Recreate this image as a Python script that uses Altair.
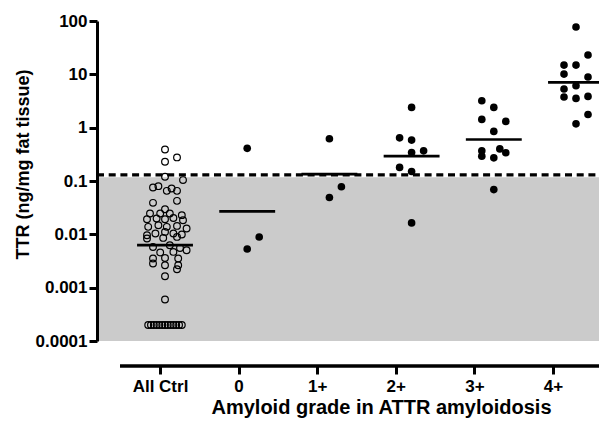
import json
import altair as alt
import pandas as pd

# ---------------- data ----------------
categories = ["All Ctrl", "0", "1+", "2+", "3+", "4+"]

ctrl_values = [0.39, 0.277, 0.229, 0.12, 0.104, 0.0757, 0.080, 0.0653, 0.0724, 0.0653,
               0.0389, 0.0424, 0.0296, 0.0246, 0.0246, 0.0246, 0.0229,
               0.0192, 0.0198, 0.0192, 0.0203, 0.0184,
               0.0138, 0.0148, 0.0138, 0.0144, 0.0129,
               0.0096, 0.01035, 0.0111, 0.01035, 0.0099,
               0.00836, 0.00858, 0.00895,
               0.0058, 0.00625, 0.00556,
               0.00456, 0.00468, 0.00504,
               0.00352, 0.00361, 0.00352,
               0.00283, 0.00263, 0.00263,
               0.00221, 0.00164, 0.0006] + [0.0002] * 13
ctrl_slots = [0, 1, 0, 0, 1.5, -1, -0.55, 0.15, 0.55, 1.0,
              -1, 1, 0, -1.25, -0.4, 0.4, 1.4,
              -1.5, -0.7, 0, 0.7, 1.5,
              -1.4, -0.55, 0.15, 1.0, 1.8,
              -1.5, -0.8, 0, 0.7, 1.4,
              -1.5, -0.15, 1.0,
              -1, 0.4, 1.25,
              -0.4, 0.7, 1.8,
              -1, 0, 1.1,
              -1, 0, 1.1,
              1.0, 0, 0] + [-1.4, -1.17, -0.93, -0.7, -0.47, -0.23, 0, 0.23, 0.47, 0.7, 0.93, 1.17, 1.4]

g0_values = [0.41, 0.0089, 0.0053]
g0_slots = [0, 1, 0]
g1_values = [0.62, 0.078, 0.049]
g1_slots = [0, 1, 0]
g2_values = [2.4, 0.645, 0.585, 0.343, 0.368, 0.18, 0.151, 0.0164]
g2_slots = [0, -1, 0, 0, 1, -1, 0, 0]
g3_values = [3.19, 2.4, 1.43, 1.31, 0.85, 0.368, 0.40, 0.338, 0.292, 0.272, 0.069]
g3_slots = [-1, 0, -1, 1, 0, -1, 0.5, 1, -1, 0, 0]
g4_values = [77, 23, 14.9, 14.9, 10.1, 8.9, 6.1, 5.3, 3.75, 3.54, 3.86, 1.77, 1.18]
g4_slots = [0, 1, -1, 0, -1, 1, 0, -1, -1, 0, 1, 1, 0]

group_means = [0.00625, 0.027, 0.134, 0.292, 0.60, 7.06]
ref_band = [0.0001, 0.118]   # grey reference range
cutoff = 0.13                 # dashed cut-off line
y_ticks = [0.0001, 0.001, 0.01, 0.1, 1, 10, 100]

# ---------------- tables ----------------
SLOT = 0.146       # one jitter slot in category units
HALF = 0.34        # half length of the mean bar in category units

ctrl_df = pd.DataFrame({"val": ctrl_values,
                        "x": [0 + s * SLOT for s in ctrl_slots]})
rows = []
for gi, (vals, slots) in enumerate([(g0_values, g0_slots), (g1_values, g1_slots),
                                    (g2_values, g2_slots), (g3_values, g3_slots),
                                    (g4_values, g4_slots)], start=1):
    for v, s in zip(vals, slots):
        rows.append({"val": v, "x": gi + s * SLOT})
pts_df = pd.DataFrame(rows)
mean_df = pd.DataFrame({"mean": group_means,
                        "lo": [i - HALF for i in range(6)],
                        "hi": [i + HALF for i in range(6)]})
band_df = pd.DataFrame({"lo": [ref_band[0]], "hi": [ref_band[1]]})
cut_df = pd.DataFrame({"cut": [cutoff]})
axis_df = pd.DataFrame({"idx": list(range(len(categories))), "cat": categories})

# ---------------- geometry ----------------
W, H = 502, 320
FONT = "Liberation Sans"
xs = alt.Scale(domain=[-0.8273, -0.8273 + W / 82.2], nice=False, zero=False)
ys = alt.Scale(type="log", domain=[0.0001, 100], nice=False)

yaxis = alt.Axis(values=y_ticks, format="~g", grid=False,
                 domain=True, domainColor="black", domainWidth=3,
                 ticks=True, tickColor="black", tickWidth=3, tickSize=8,
                 labelFont=FONT, labelFontSize=17, labelFontWeight="bold",
                 labelColor="black", labelPadding=2, labelFlush=False,
                 title="TTR (ng/mg fat tissue)", titleFont=FONT, titleFontSize=18,
                 titleFontWeight="bold", titleColor="black",
                 titleX=-74, titleY=143, titleAlign="center", titleBaseline="middle",
                 titleAngle=270)

band = alt.Chart(band_df).mark_rect(color="#cbcbcb").encode(
    x=alt.value(2), x2=alt.value(W),
    y=alt.Y("lo:Q", scale=ys, axis=yaxis), y2="hi:Q")

cut = alt.Chart(cut_df).mark_rule(color="black", strokeWidth=3.3, strokeDash=[7, 4.7]).encode(
    x=alt.value(0), x2=alt.value(W),
    y=alt.Y("cut:Q", scale=ys, axis=yaxis))

ctrl = alt.Chart(ctrl_df).mark_point(shape="circle", filled=False, stroke="black",
                                     strokeWidth=1.2, size=45, opacity=1).encode(
    x=alt.X("x:Q", scale=xs, axis=None),
    y=alt.Y("val:Q", scale=ys, axis=yaxis))

pts = alt.Chart(pts_df).mark_circle(color="black", size=58, opacity=1).encode(
    x=alt.X("x:Q", scale=xs, axis=None),
    y=alt.Y("val:Q", scale=ys, axis=yaxis))

means = alt.Chart(mean_df).mark_rule(color="black", strokeWidth=2.7).encode(
    x=alt.X("lo:Q", scale=xs, axis=None), x2="hi:Q",
    y=alt.Y("mean:Q", scale=ys, axis=yaxis))

axis_line = alt.Chart(cut_df).mark_rule(color="black", strokeWidth=3.3).encode(
    x=alt.value(23), x2=alt.value(W), y=alt.value(H + 25))

label_expr = json.dumps(categories) + "[datum.value]"
xaxis_layer = alt.Chart(axis_df).mark_point(opacity=0).encode(
    x=alt.X("idx:Q",
            scale=alt.Scale(domain=[-0.8015, -0.8015 + W / 78.6], nice=False, zero=False),
            axis=alt.Axis(orient="bottom", values=list(range(len(categories))),
                          labelExpr=label_expr, offset=25, domain=False, grid=False,
                          ticks=True, tickColor="black", tickWidth=3, tickSize=8,
                          labelFont=FONT, labelFontSize=17, labelFontWeight="bold",
                          labelColor="black", labelPadding=4, labelFlush=False,
                          labelOverlap=False,
                          title="Amyloid grade in ATTR amyloidosis", titleFont=FONT,
                          titleFontSize=20, titleFontWeight="bold", titleColor="black",
                          titleX=284, titleAlign="center", titlePadding=3)))

chart = alt.layer(band, cut, ctrl, pts, means, axis_line, xaxis_layer).resolve_scale(
    x="independent").resolve_axis(x="independent").properties(
    width=W, height=H,
    autosize=alt.AutoSizeParams(type="none"),
    padding={"left": 89, "top": 13, "right": 0, "bottom": 79},
    background="white",
).configure_view(stroke=None)

chart.save("out.html", embed_options={"renderer": "svg", "actions": False})
